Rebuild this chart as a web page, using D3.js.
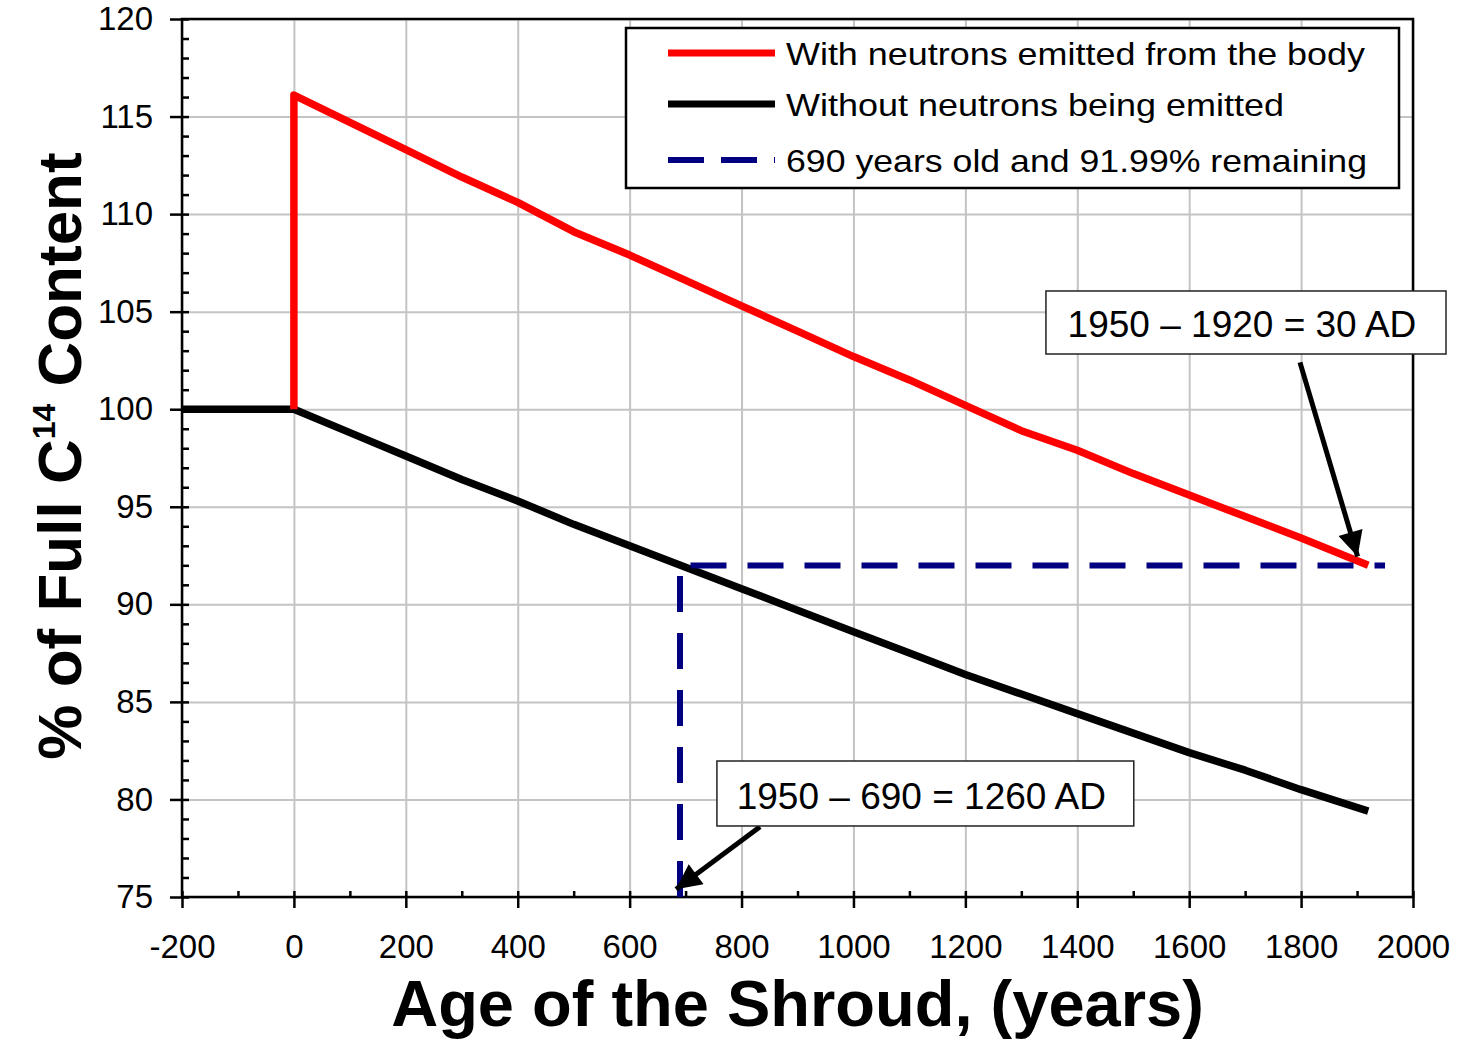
<!DOCTYPE html>
<html lang="en">
<head>
<meta charset="UTF-8">
<title>% of Full C14 Content vs Age of the Shroud</title>
<style>
  body { margin: 0; background: #fff; }
  svg { display: block; font-family: "Liberation Sans", Arial, sans-serif; }
  .tick text { font-size: 33px; fill: #000; }
</style>
</head>
<body>
<div id="chart"></div>
<script src="https://d3js.org/d3.v7.min.js"></script>
<script>
// ages in years, and % of full C14
const blackYears = [-200, -100, 0, 100, 200, 300, 400, 500, 600, 700, 800, 900, 1000, 1100, 1200, 1300, 1400, 1500, 1600, 1700, 1800, 1920];
const blackValues = [100, 100, 100, 98.8, 97.6, 96.4, 95.3, 94.1, 93.0, 91.9, 90.8, 89.7, 88.6, 87.5, 86.4, 85.4, 84.4, 83.4, 82.4, 81.5, 80.5, 79.4];

const redYears = [0, 0, 100, 200, 300, 400, 500, 600, 700, 800, 900, 1000, 1100, 1200, 1300, 1400, 1500, 1600, 1700, 1800, 1920];
const redValues = [100, 116.1, 114.7, 113.3, 111.9, 110.6, 109.1, 107.9, 106.6, 105.3, 104.0, 102.7, 101.5, 100.2, 98.9, 97.9, 96.7, 95.6, 94.5, 93.4, 92.0];

// the 690 years / 91.99% guide
const guideYears = [690, 690, 1950];
const guideValues = [75, 91.99, 91.99];

const xTicks = d3.range(-200, 2001, 200);
const xMinor = d3.range(-200, 2001, 100);
const yTicks = d3.range(75, 121, 5);
const yMinor = d3.range(75, 121, 1);

const legendLabels = ['With neutrons emitted from the body', 'Without neutrons being emitted', '690 years old and 91.99% remaining'];

// callouts: [box x0, box x1, box y top, box y bottom] in data units, arrow from -> to
const notes = [
  { text: '1950 \u2013 1920 = 30 AD', box: [1344, 2059, 106.06, 102.83], from: [1798, 102.4], to: [1901, 92.45] },
  { text: '1950 \u2013 690 = 1260 AD', box: [756, 1501, 81.97, 78.64], from: [833, 78.6], to: [683, 75.4] }
];

const width = 1461, height = 1040;
const margin = { top: 19, right: 48, bottom: 143, left: 182 };

const svg = d3.select('#chart').append('svg')
  .attr('width', width)
  .attr('height', height);

const x = d3.scaleLinear().domain([-200, 2000]).range([margin.left, width - margin.right]);
const y = d3.scaleLinear().domain([75, 120]).range([height - margin.bottom, margin.top]);

const plotW = width - margin.left - margin.right;
const plotH = height - margin.top - margin.bottom;

// grid
svg.append('g')
  .attr('transform', `translate(0,${height - margin.bottom})`)
  .call(d3.axisBottom(x).tickValues(xTicks).tickSize(-plotH).tickFormat(''))
  .call(g => g.select('.domain').remove())
  .call(g => g.selectAll('line').attr('stroke', '#c4c4c4').attr('stroke-width', 2));

svg.append('g')
  .attr('transform', `translate(${margin.left},0)`)
  .call(d3.axisLeft(y).tickValues(yTicks).tickSize(-plotW).tickFormat(''))
  .call(g => g.select('.domain').remove())
  .call(g => g.selectAll('line').attr('stroke', '#c4c4c4').attr('stroke-width', 2));

// minor ticks, inside
svg.append('g')
  .attr('transform', `translate(0,${height - margin.bottom})`)
  .call(d3.axisBottom(x).tickValues(xMinor).tickSize(-6).tickFormat(''))
  .call(g => g.select('.domain').remove())
  .call(g => g.selectAll('line').attr('stroke', '#000').attr('stroke-width', 2.5));

svg.append('g')
  .attr('transform', `translate(${margin.left},0)`)
  .call(d3.axisLeft(y).tickValues(yMinor).tickSize(-7).tickFormat(''))
  .call(g => g.select('.domain').remove())
  .call(g => g.selectAll('line').attr('stroke', '#000').attr('stroke-width', 2.5));

// major ticks with labels, outside
svg.append('g')
  .attr('transform', `translate(0,${height - margin.bottom})`)
  .call(d3.axisBottom(x).tickValues(xTicks).tickSize(11).tickPadding(27).tickFormat(d => String(d)))
  .call(g => g.select('.domain').remove())
  .call(g => g.selectAll('line').attr('stroke', '#000').attr('stroke-width', 2.5))
  .call(g => g.selectAll('text').attr('font-family', null));

svg.append('g')
  .attr('transform', `translate(${margin.left},0)`)
  .call(d3.axisLeft(y).tickValues(yTicks).tickSize(12).tickPadding(17).tickFormat(d => String(d)))
  .call(g => g.select('.domain').remove())
  .call(g => g.selectAll('line').attr('stroke', '#000').attr('stroke-width', 2.5))
  .call(g => g.selectAll('text').attr('font-family', null));

// frame
svg.append('rect')
  .attr('x', margin.left).attr('y', margin.top)
  .attr('width', plotW).attr('height', plotH)
  .attr('fill', 'none').attr('stroke', '#000').attr('stroke-width', 2.5);

const line = d3.line().x(d => x(d[0])).y(d => y(d[1]));

svg.append('path')
  .datum(blackYears.map((yr, i) => [yr, blackValues[i]]))
  .attr('d', line)
  .attr('fill', 'none').attr('stroke', '#000').attr('stroke-width', 7.5)
  .attr('stroke-linejoin', 'round');

svg.append('path')
  .datum(redYears.map((yr, i) => [yr, redValues[i]]))
  .attr('d', line)
  .attr('fill', 'none').attr('stroke', '#ff0000').attr('stroke-width', 7.5)
  .attr('stroke-linejoin', 'round');

svg.append('path')
  .datum(guideYears.map((yr, i) => [yr, guideValues[i]]))
  .attr('d', line)
  .attr('fill', 'none').attr('stroke', '#000080').attr('stroke-width', 6)
  .attr('stroke-dasharray', '36,21');

// callouts
svg.append('defs').append('marker')
  .attr('id', 'arrow')
  .attr('viewBox', '0 0 10 10')
  .attr('refX', 10).attr('refY', 5)
  .attr('markerWidth', 5.4).attr('markerHeight', 5)
  .attr('markerUnits', 'strokeWidth')
  .attr('orient', 'auto')
  .append('path').attr('d', 'M0,0 L10,5 L0,10 Z').attr('fill', '#000');

notes.forEach(n => {
  svg.append('line')
    .attr('x1', x(n.from[0])).attr('y1', y(n.from[1]))
    .attr('x2', x(n.to[0])).attr('y2', y(n.to[1]))
    .attr('stroke', '#000').attr('stroke-width', 5)
    .attr('marker-end', 'url(#arrow)');

  const bx0 = x(n.box[0]), bx1 = x(n.box[1]), by0 = y(n.box[2]), by1 = y(n.box[3]);
  svg.append('rect')
    .attr('x', bx0).attr('y', by0)
    .attr('width', bx1 - bx0).attr('height', by1 - by0)
    .attr('fill', '#fff').attr('stroke', '#222').attr('stroke-width', 1.5);
  svg.append('text')
    .attr('x', (bx0 + bx1) / 2 - 4)
    .attr('y', by1 - 17)
    .attr('text-anchor', 'middle')
    .attr('font-size', 37)
    .text(n.text);
});

// legend
const legend = svg.append('g');
legend.append('rect')
  .attr('x', 626).attr('y', 28).attr('width', 773).attr('height', 160)
  .attr('fill', '#fff').attr('stroke', '#000').attr('stroke-width', 2.5);

const legendStyles = [
  { stroke: '#ff0000', width: 7, dash: null, cy: 53, len: 579 },
  { stroke: '#000', width: 7, dash: null, cy: 104, len: 498 },
  { stroke: '#000080', width: 6, dash: '36,17', cy: 160, len: 581 }
];

legendLabels.forEach((label, i) => {
  const s = legendStyles[i];
  legend.append('line')
    .attr('x1', 668).attr('x2', 775)
    .attr('y1', s.cy).attr('y2', s.cy)
    .attr('stroke', s.stroke).attr('stroke-width', s.width)
    .attr('stroke-dasharray', s.dash);
  legend.append('text')
    .attr('x', 786).attr('y', s.cy + 12)
    .attr('font-size', 32)
    .attr('textLength', s.len)
    .attr('lengthAdjust', 'spacingAndGlyphs')
    .text(label);
});

// axis titles
svg.append('text')
  .attr('x', (margin.left + width - margin.right) / 2)
  .attr('y', 1026)
  .attr('text-anchor', 'middle')
  .attr('font-size', 65)
  .attr('font-weight', 'bold')
  .text('Age of the Shroud, (years)');

const yTitle = svg.append('text')
  .attr('transform', 'translate(81,456) rotate(-90)')
  .attr('text-anchor', 'middle')
  .attr('font-size', 62)
  .attr('font-weight', 'bold');
yTitle.append('tspan').text('% of Full C');
yTitle.append('tspan').attr('font-size', 32).attr('dy', -26).text('14');
yTitle.append('tspan').attr('dy', 26).text(' Content');
</script>
</body>
</html>
